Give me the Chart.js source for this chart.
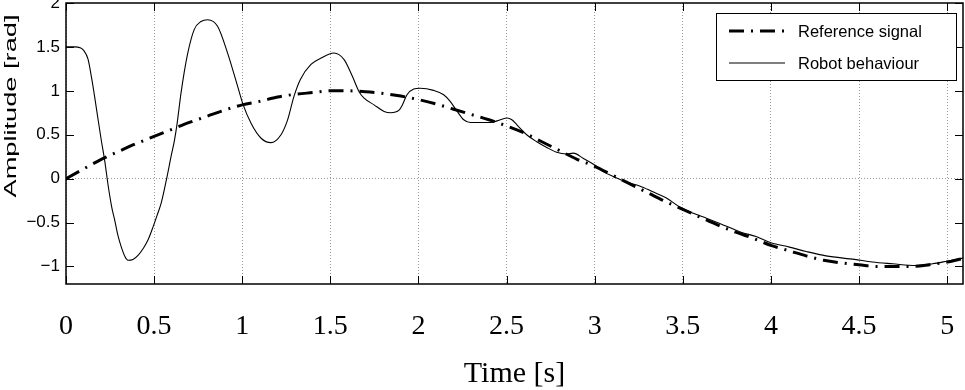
<!DOCTYPE html>
<html>
<head>
<meta charset="utf-8">
<script src="https://cdn.jsdelivr.net/npm/chart.js@4.4.1/dist/chart.umd.min.js"></script>
<style>
  html, body { margin: 0; padding: 0; background: #fff; }
  canvas { display: block; }
</style>
</head>
<body>
<canvas id="myChart" width="965" height="390"></canvas>
<script>
// reference signal, read every 0.1 s
const refTime = [0, 0.1, 0.2, 0.3, 0.4, 0.5, 0.6, 0.7, 0.8, 0.9,
  1.0, 1.1, 1.2, 1.3, 1.4, 1.5, 1.6, 1.7, 1.8, 1.9,
  2.0, 2.1, 2.2, 2.3, 2.4, 2.5, 2.6, 2.7, 2.8, 2.9,
  3.0, 3.1, 3.2, 3.3, 3.4, 3.5, 3.6, 3.7, 3.8, 3.9,
  4.0, 4.1, 4.2, 4.3, 4.4, 4.5, 4.6, 4.7, 4.8, 4.9,
  5.0, 5.09];
const refAmp = [0.00, 0.11, 0.22, 0.31, 0.40, 0.48, 0.56, 0.64, 0.71, 0.78,
  0.84, 0.88, 0.93, 0.96, 0.98, 1.00, 1.00, 0.99, 0.97, 0.94,
  0.90, 0.85, 0.79, 0.73, 0.67, 0.60, 0.52, 0.42, 0.32, 0.22,
  0.14, 0.04, -0.06, -0.16, -0.26, -0.35, -0.44, -0.53, -0.61, -0.68,
  -0.76, -0.82, -0.88, -0.93, -0.96, -0.98, -1.00, -1.00, -1.00, -0.98,
  -0.95, -0.91];

// robot behaviour
const robotTime = [0, 0.05, 0.08, 0.10, 0.125, 0.145, 0.162, 0.18, 0.20, 0.22,
  0.24, 0.26, 0.276, 0.295, 0.314, 0.335, 0.352, 0.38, 0.41, 0.44,
  0.465, 0.494, 0.52, 0.54, 0.569, 0.598, 0.615, 0.63, 0.653, 0.69,
  0.728, 0.766, 0.804, 0.86, 0.917, 0.974, 1.002, 1.05, 1.107, 1.163,
  1.22, 1.256, 1.294, 1.33, 1.39, 1.445, 1.52, 1.578, 1.625, 1.663,
  1.69, 1.748, 1.805, 1.842, 1.89, 1.909, 1.935, 1.973, 2.01, 2.086,
  2.143, 2.18, 2.22, 2.257, 2.295, 2.408, 2.465, 2.503, 2.53, 2.56,
  2.614, 2.671, 2.728, 2.784, 2.841, 2.879, 2.936, 3.0, 3.05, 3.106,
  3.18, 3.255, 3.33, 3.407, 3.48, 3.56, 3.634, 3.71, 3.83, 3.916,
  4.0, 4.105, 4.2, 4.313, 4.474, 4.576, 4.69, 4.82, 4.917, 5.0,
  5.09];
const robotAmp = [1.50, 1.50, 1.49, 1.46, 1.36, 1.15, 0.94, 0.70, 0.44, 0.20,
  -0.09, -0.33, -0.47, -0.65, -0.78, -0.89, -0.93, -0.92, -0.87, -0.79,
  -0.70, -0.55, -0.40, -0.28, -0.02, 0.27, 0.43, 0.62, 0.98, 1.42,
  1.70, 1.79, 1.81, 1.735, 1.43, 1.05, 0.86, 0.63, 0.46, 0.41,
  0.50, 0.66, 0.94, 1.13, 1.30, 1.37, 1.43, 1.355, 1.165, 0.99,
  0.92, 0.84, 0.765, 0.75, 0.78, 0.84, 0.955, 1.02, 1.03, 1.005,
  0.955, 0.88, 0.765, 0.67, 0.64, 0.64, 0.67, 0.69, 0.67, 0.61,
  0.50, 0.42, 0.355, 0.30, 0.28, 0.29, 0.23, 0.156, 0.08, 0.023,
  -0.04, -0.083, -0.15, -0.22, -0.32, -0.395, -0.45, -0.51, -0.61, -0.66,
  -0.73, -0.78, -0.83, -0.88, -0.92, -0.95, -0.97, -0.99, -0.97, -0.94,
  -0.905];

const seriesNames = ["Reference signal", "Robot behaviour"];
const xTitle = "Time [s]";
const yTitle = "Amplitude [rad]";

const refPoints = refTime.map((t, i) => ({ x: t, y: refAmp[i] }));
const robotPoints = robotTime.map((t, i) => ({ x: t, y: robotAmp[i] }));

// inner tick marks + frame
const framePlugin = {
  id: "frame",
  afterDatasetsDraw(chart) {
    const { ctx, chartArea: a, scales } = chart;
    ctx.save();
    ctx.strokeStyle = "#000";
    ctx.lineWidth = 1;
    ctx.beginPath();
    scales.x.ticks.forEach(function (t) {
      const px = Math.round(scales.x.getPixelForValue(t.value)) + 0.5;
      ctx.moveTo(px, a.bottom); ctx.lineTo(px, a.bottom - 8);
      ctx.moveTo(px, a.top); ctx.lineTo(px, a.top + 8);
    });
    scales.y.ticks.forEach(function (t) {
      const py = Math.round(scales.y.getPixelForValue(t.value)) + 0.5;
      ctx.moveTo(a.left, py); ctx.lineTo(a.left + 8, py);
      ctx.moveTo(a.right, py); ctx.lineTo(a.right - 8, py);
    });
    ctx.stroke();
    ctx.lineWidth = 1.5;
    ctx.strokeRect(a.left, a.top, a.right - a.left, a.bottom - a.top);
    ctx.restore();
  }
};

// boxed legend in the upper right + stretched y title
const legendPlugin = {
  id: "boxLegend",
  afterDraw(chart) {
    const { ctx, chartArea: a } = chart;
    const left = a.right - 247, top = a.top + 10, w = 240, h = 67;
    ctx.save();
    ctx.fillStyle = "#fff";
    ctx.fillRect(left, top, w, h);
    ctx.strokeStyle = "#000";
    ctx.lineWidth = 1;
    ctx.strokeRect(left + 0.5, top + 0.5, w, h);
    chart.data.datasets.forEach(function (ds, i) {
      const y = top + 18 + i * 32;
      ctx.beginPath();
      ctx.setLineDash(ds.borderDash || []);
      ctx.lineWidth = ds.borderWidth;
      ctx.strokeStyle = ds.borderColor;
      ctx.moveTo(left + 13, y);
      ctx.lineTo(left + 69, y);
      ctx.stroke();
      ctx.setLineDash([]);
      ctx.fillStyle = "#000";
      ctx.font = "16.5px 'Liberation Sans', Arial, sans-serif";
      ctx.textAlign = "left";
      ctx.textBaseline = "middle";
      ctx.fillText(ds.label, left + 82, y + 1);
    });

    ctx.translate(12, 106);
    ctx.rotate(-Math.PI / 2);
    ctx.scale(1.7, 1);
    ctx.fillStyle = "#000";
    ctx.font = "16px 'Liberation Sans', Arial, sans-serif";
    ctx.textAlign = "center";
    ctx.textBaseline = "middle";
    ctx.fillText(yTitle, 0, 0);
    ctx.restore();
  }
};

new Chart(document.getElementById("myChart"), {
  type: "line",
  data: {
    datasets: [
      {
        label: seriesNames[0],
        data: refPoints,
        borderColor: "#000",
        borderWidth: 3,
        borderDash: [15, 7, 2, 7],
        pointRadius: 0,
        cubicInterpolationMode: "monotone",
        fill: false
      },
      {
        label: seriesNames[1],
        data: robotPoints,
        borderColor: "#000",
        borderWidth: 1.1,
        pointRadius: 0,
        cubicInterpolationMode: "monotone",
        fill: false
      }
    ]
  },
  options: {
    responsive: false,
    animation: false,
    layout: { padding: { top: 3, right: 2, left: 0, bottom: 0 } },
    plugins: {
      legend: { display: false },
      tooltip: { enabled: false }
    },
    scales: {
      x: {
        type: "linear",
        min: 0,
        max: 5.09,
        border: { display: false, dash: [1, 2] },
        grid: { color: "#9a9a9a", lineWidth: 1, drawTicks: false },
        ticks: {
          stepSize: 0.5,
          includeBounds: false,
          maxRotation: 0,
          padding: 26,
          color: "#000",
          font: { family: "'Liberation Serif', 'Times New Roman', serif", size: 28 },
          callback: (v) => String(v)
        },
        title: {
          display: true,
          text: xTitle,
          color: "#000",
          font: { family: "'Liberation Serif', 'Times New Roman', serif", size: 30, lineHeight: 1.05 },
          padding: { top: 0, bottom: 0 }
        },
        afterFit: function (scale) {
          scale.height = 106;
          scale.paddingLeft = 0;
          scale.paddingRight = 0;
        }
      },
      y: {
        min: -1.2,
        max: 2,
        border: { display: false, dash: [1, 2] },
        grid: {
          color: (c) => (c.tick && c.tick.value === 0 ? "#9a9a9a" : "rgba(0,0,0,0)"),
          lineWidth: 1,
          drawTicks: false
        },
        ticks: {
          stepSize: 0.5,
          includeBounds: false,
          padding: 6,
          color: "#000",
          font: { family: "'Liberation Sans', Arial, sans-serif", size: 17 },
          callback: (v) => String(v).replace("-", "\u2212")
        },
        afterFit: function (scale) {
          scale.width = 66;
          scale.paddingTop = 0;
          scale.paddingBottom = 0;
        }
      }
    }
  },
  plugins: [framePlugin, legendPlugin]
});
</script>
</body>
</html>
